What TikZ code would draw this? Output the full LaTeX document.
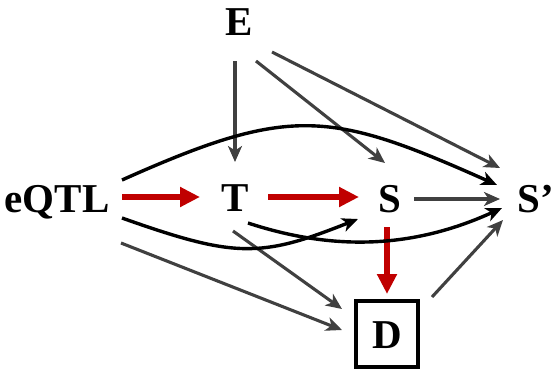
\documentclass[tikz,border=0pt]{standalone}
\usepackage{fontspec}
\setmainfont{Liberation Serif}
\usetikzlibrary{arrows.meta,calc}
\definecolor{edgegray}{HTML}{404040}
\definecolor{pathred}{HTML}{C00000}
\tikzset{
  var/.style={font=\fontsize{41}{41}\selectfont\bfseries, inner sep=0pt,
              text height=28pt, text depth=0pt},
  outcome/.style={var, draw, line width=3.8pt, minimum width=62pt, minimum height=66pt},
  causal/.style={draw=edgegray, line width=3.1pt,
                 -{Stealth[length=16pt,width=14pt,inset=4.5pt]}},
  direct/.style={draw=black, line width=3.4pt,
                 -{Stealth[length=16pt,width=14pt,inset=4.5pt]}},
  mediate/.style={draw=pathred, line width=5.5pt,
                  -{Triangle[length=20pt,width=19pt]}},
}
\begin{document}
\begin{tikzpicture}[x=1pt,y=-1pt]
  \useasboundingbox (0,0) rectangle (553,369);

  % variables
  \node[var] (E)    at (239,22)  {E};
  \node[var] (Q)    at (57,198)  {eQTL};
  \node[var] (T)    at (235,197) {T};
  \node[var] (S)    at (390,198) {S};
  \node[var] (S2)   at (536,198) {S’};
  \node[outcome] (D) at (387,334) {D};

  % mediated path eQTL -> T -> S -> D
  \draw[mediate] ($(Q)+(65,-1)$) -- ($(T)+(-35,0)$);
  \draw[mediate] ($(T)+(33,0)$) -- ($(S)+(-31,-1)$);
  \draw[mediate] ($(S)+(-3,29)$) -- ($(D)+(0,-40)$);

  % environment effects
  \draw[causal] ($(E)+(-4,39)$) -- ($(T)+(0,-35)$);
  \draw[causal] ($(E)+(17,39)$) -- ($(S)+(-5,-35)$);
  \draw[causal] ($(E)+(33,30)$) -- ($(S2)+(-36,-30)$);

  % other gray effects
  \draw[causal] ($(S)+(24,1)$) -- ($(S2)+(-36,1)$);
  \draw[causal] ($(Q)+(64,45)$) -- ($(D)+(-45,-4)$);
  \draw[causal] ($(T)+(-2,34)$) -- ($(D)+(-45,-25)$);
  \draw[causal] ($(D)+(45,-37)$) -- ($(S2)+(-33,22)$);

  % direct curved effects
  \draw[direct] ($(Q)+(65,-18)$) .. controls (290,105) and (329,110) .. ($(S2)+(-39,-13)$);
  \draw[direct] ($(Q)+(65,20)$) .. controls (235,258) and (260,258) .. ($(S)+(-32,21)$);
  \draw[direct] ($(T)+(13,26)$) .. controls (330,250) and (410,250) .. ($(S2)+(-34,10)$);
\end{tikzpicture}
\end{document}
